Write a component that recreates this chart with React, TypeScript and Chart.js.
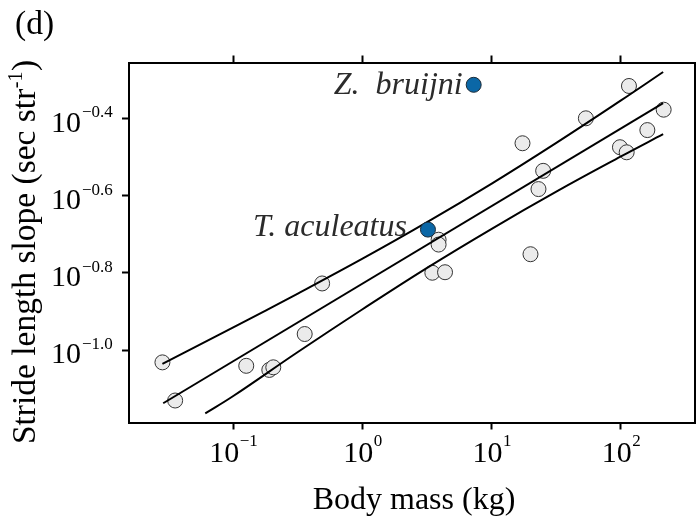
import React, { useEffect, useRef } from "react";
import { Chart, registerables } from "chart.js";

Chart.register(...registerables);

// ---- data ----
const massKg = [0.0283, 0.0355, 0.126, 0.19, 0.204, 0.357, 0.487, 3.47, 3.88, 3.88, 4.35, 17.3, 19.95, 23.0, 25.0, 53.5, 98.2, 110.7, 115.3, 160, 214];
const strideSlope = [0.0929, 0.074, 0.091, 0.0888, 0.0902, 0.11, 0.1487, 0.1585, 0.193, 0.1875, 0.159, 0.343, 0.177, 0.261, 0.291, 0.398, 0.335, 0.325, 0.4826, 0.371, 0.419];

const highlightNames = ["Z.  bruijni", "T. aculeatus"];
const highlightMass = [7.25, 3.21];
const highlightSlope = [0.486, 0.205];

const fitMass = [0.0287, 212];
const fitSlope = [0.0728, 0.4355];

const upperMass = [0.0283, 0.1, 0.316, 1, 3.16, 10, 31.6, 100, 212];
const upperSlope = [0.0921, 0.1144, 0.14, 0.1723, 0.2142, 0.2696, 0.3437, 0.4427, 0.5245];

const lowerMass = [0.0607, 0.1, 0.316, 1, 3.16, 10, 31.6, 100, 212];
const lowerSlope = [0.0685, 0.076, 0.0988, 0.1275, 0.1632, 0.206, 0.257, 0.317, 0.362];

const xTickValues = [0.1, 1, 10, 100];
const xTickExponents = ["\u22121", "0", "1", "2"];
const yTickValues = [0.3981, 0.2512, 0.1585, 0.1];
const yTickExponents = ["\u22120.4", "\u22120.6", "\u22120.8", "\u22121.0"];

const xMin = 0.0156;
const xMax = 374;
const yMin = 0.06491;
const yMax = 0.5551;

const xTitle = "Body mass (kg)";
const yTitleMain = "Stride length slope (sec str";
const yTitleSup = "-1";
const yTitleEnd = ")";
const panelLabel = "(d)";

const SERIF = '"Liberation Serif", "Times New Roman", serif';

const toPts = (xs: number[], ys: number[]) => xs.map((x, i) => ({ x, y: ys[i] }));

const labelPlugin = {
  id: "customLabels",
  afterDraw(chart: any) {
    const ctx = chart.ctx as CanvasRenderingContext2D;
    const xs = chart.scales.x;
    const ys = chart.scales.y;
    const area = chart.chartArea;
    ctx.save();
    ctx.fillStyle = "#000";
    ctx.textBaseline = "alphabetic";
    ctx.textAlign = "left";
    const big = `30px ${SERIF}`;
    const small = `17px ${SERIF}`;

    // x tick labels
    xTickValues.forEach((v, i) => {
      const px = xs.getPixelForValue(v);
      ctx.font = big;
      const w1 = ctx.measureText("10").width;
      ctx.font = small;
      const w2 = ctx.measureText(xTickExponents[i]).width;
      const start = px - (w1 + w2) / 2;
      ctx.font = big;
      ctx.fillText("10", start, area.bottom + 39);
      ctx.font = small;
      ctx.fillText(xTickExponents[i], start + w1 + 0.5, area.bottom + 23.5);
    });

    // y tick labels
    yTickValues.forEach((v, i) => {
      const py = ys.getPixelForValue(v);
      ctx.font = big;
      const w1 = ctx.measureText("10").width;
      const start = area.left - 78;
      ctx.fillText("10", start, py + 13.4);
      ctx.font = small;
      ctx.fillText(yTickExponents[i], start + w1 + 1, py - 1);
    });

    // x axis title
    ctx.font = `32px ${SERIF}`;
    ctx.textAlign = "center";
    ctx.fillText(xTitle, (area.left + area.right) / 2 + 2, 509);

    // y axis title (rotated)
    ctx.textAlign = "left";
    const tFont = `33.5px ${SERIF}`;
    const sFont = `20px ${SERIF}`;
    ctx.font = tFont;
    const wm = ctx.measureText(yTitleMain).width;
    const we = ctx.measureText(yTitleEnd).width;
    ctx.font = sFont;
    const ws = ctx.measureText(yTitleSup).width;
    const total = wm + ws + we + 1;
    ctx.translate(35, 252);
    ctx.rotate(-Math.PI / 2);
    let cx = -total / 2;
    ctx.font = tFont;
    ctx.fillText(yTitleMain, cx, 0);
    cx += wm + 0.5;
    ctx.font = sFont;
    ctx.fillText(yTitleSup, cx, -13);
    cx += ws + 0.5;
    ctx.font = tFont;
    ctx.fillText(yTitleEnd, cx, 0);
    ctx.setTransform(1, 0, 0, 1, 0, 0);

    // panel label
    ctx.font = `33.5px ${SERIF}`;
    ctx.fillText(panelLabel, 15, 34);

    // highlighted species names
    const dxs = [-11, -21];
    const dys = [9, 6];
    ctx.font = `italic 32px ${SERIF}`;
    ctx.fillStyle = "#2b2b2b";
    ctx.textAlign = "right";
    highlightNames.forEach((name, i) => {
      const px = xs.getPixelForValue(highlightMass[i]);
      const py = ys.getPixelForValue(highlightSlope[i]);
      ctx.fillText(name, px + dxs[i], py + dys[i]);
    });
    ctx.restore();
  },
};

const tickAxis = (position: string, size: number, values: number[], min: number, max: number, drawTicks: boolean, horizontal: boolean) => ({
  type: "logarithmic",
  position,
  min,
  max,
  bounds: "data",
  afterBuildTicks: (s: any) => {
    s.ticks = values.map((v) => ({ value: v }));
  },
  afterFit: (s: any) => {
    if (horizontal) s.height = size;
    else s.width = size;
  },
  ticks: { display: false },
  grid: {
    display: drawTicks,
    drawOnChartArea: false,
    drawTicks: true,
    tickLength: 7,
    tickWidth: 2,
    tickColor: "#000",
    color: "#000",
  },
  border: { display: true, color: "#000", width: 2 },
});

export default function App() {
  const ref = useRef<HTMLCanvasElement | null>(null);
  useEffect(() => {
    if (!ref.current) return;
    const lineStyle = {
      type: "line" as const,
      borderColor: "#000",
      borderWidth: 2,
      pointRadius: 0,
      showLine: true,
      fill: false,
      tension: 0.4,
    };
    const chart = new Chart(ref.current, {
      type: "scatter",
      data: {
        datasets: [
          {
            label: "highlighted",
            data: toPts(highlightMass, highlightSlope),
            backgroundColor: "#0b67a6",
            borderColor: "#1c2a36",
            borderWidth: 1,
            pointRadius: 7.5,
            order: 0,
          },
          { ...lineStyle, label: "upper", data: toPts(upperMass, upperSlope), order: 1 },
          { ...lineStyle, label: "fit", data: toPts(fitMass, fitSlope), order: 1, tension: 0 },
          { ...lineStyle, label: "lower", data: toPts(lowerMass, lowerSlope), order: 1 },
          {
            label: "species",
            data: toPts(massKg, strideSlope),
            backgroundColor: "#ebebeb",
            borderColor: "#333",
            borderWidth: 1,
            pointRadius: 7.5,
            order: 2,
          },
        ] as any,
      },
      options: {
        animation: false,
        responsive: false,
        maintainAspectRatio: false,
        layout: { padding: 0, autoPadding: false } as any,
        plugins: { legend: { display: false }, tooltip: { enabled: false }, title: { display: false } },
        scales: {
          x: tickAxis("bottom", 97.5, xTickValues, xMin, xMax, true, true),
          x2: tickAxis("top", 62.5, xTickValues, xMin, xMax, true, true),
          y: tickAxis("left", 129, yTickValues, yMin, yMax, true, false),
          y2: tickAxis("right", 4, yTickValues, yMin, yMax, false, false),
        } as any,
      },
      plugins: [labelPlugin],
    });
    return () => chart.destroy();
  }, []);
  return (
    <div style={{ position: "absolute", left: 0, top: 0, width: 699, height: 520, background: "#fff" }}>
      <canvas ref={ref} width={699} height={520} style={{ display: "block", width: 699, height: 520 }} />
    </div>
  );
}
